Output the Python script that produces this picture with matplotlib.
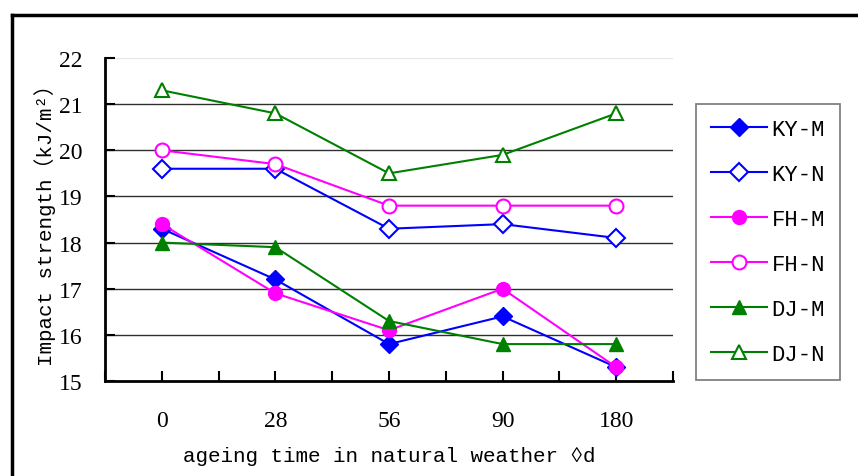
from matplotlib import pyplot as plt
from matplotlib.lines import Line2D
import numpy as np

# 数据
days = ['0', '28', '56', '90', '180']
ky_m = [18.3, 17.2, 15.8, 16.4, 15.3]
ky_n = [19.6, 19.6, 18.3, 18.4, 18.1]
fh_m = [18.4, 16.9, 16.1, 17.0, 15.3]
fh_n = [20.0, 19.7, 18.8, 18.8, 18.8]
dj_m = [18.0, 17.9, 16.3, 15.8, 15.8]
dj_n = [21.3, 20.8, 19.5, 19.9, 20.8]
y_ticks = [15, 16, 17, 18, 19, 20, 21, 22]

mono = ['Liberation Mono', 'Noto Sans CJK SC', 'DejaVu Sans']
serif = ['Liberation Serif', 'DejaVu Serif']

W, H = 858, 477
fig = plt.figure(figsize=(W / 100, H / 100), dpi=100)
ax = fig.add_axes([105 / W, 1 - 382 / H, 568 / W, 323 / H])

x = np.arange(len(days))
series = [
    ('KY-M', ky_m, '#0000ff', 'D', 'full', 9),
    ('KY-N', ky_n, '#0000ff', 'D', 'none', 9),
    ('FH-M', fh_m, '#ff00ff', 'o', 'full', 10),
    ('FH-N', fh_n, '#ff00ff', 'o', 'none', 10),
    ('DJ-M', dj_m, '#008000', '^', 'full', 10),
    ('DJ-N', dj_n, '#008000', '^', 'none', 10),
]
for name, vals, c, m, fill, ms in series:
    if fill == 'full':
        ax.plot(x, vals, color=c, marker=m, markersize=ms, lw=1.5,
                markerfacecolor=c, markeredgecolor=c, label=name, zorder=3)
    else:
        ax.plot(x, vals, color=c, marker=m, markersize=ms, lw=1.5,
                markerfacecolor='white', markeredgecolor=c, markeredgewidth=1.5,
                label=name, zorder=3)

ax.set_xlim(-0.5, len(days) - 0.5)
ax.set_ylim(15, 22)
ax.set_yticks(y_ticks)
ax.set_yticklabels([str(v) for v in y_ticks], family=serif, fontsize=17)
ax.set_xticks(x)
ax.set_xticklabels(days, family=serif, fontsize=17)
ax.set_xticks(np.arange(-0.5, len(days), 1.0), minor=True)
ax.tick_params(axis='x', which='both', direction='in', length=7, width=1.5, pad=21)
ax.tick_params(axis='y', direction='in', length=7, width=1.5, pad=16)

for v in y_ticks[1:-1]:
    ax.axhline(v, color='#303030', lw=1.0, zorder=1)
ax.axhline(22, color='#e6e6e6', lw=1.0, zorder=1)

ax.spines['top'].set_visible(False)
ax.spines['right'].set_visible(False)
ax.spines['left'].set_linewidth(2)
ax.spines['bottom'].set_linewidth(2)

ax.set_ylabel('Impact strength（kJ/m²）', family=mono, fontsize=15, va='center')
ax.yaxis.set_label_coords((45 - 105) / 568, 0.5)
ax.set_xlabel('ageing time in natural weather ◊d', family=mono, fontsize=15, va='center')
ax.xaxis.set_label_coords(0.5, (382 - 457) / 323)

leg = fig.legend(*ax.get_legend_handles_labels(), loc='upper left',
                 bbox_to_anchor=(696 / W, 1 - 105 / H), borderaxespad=0,
                 frameon=True, fancybox=False, edgecolor='#555555',
                 handlelength=2.5, handletextpad=0.22, labelspacing=1.08,
                 borderpad=0.68, prop={'family': mono, 'size': 16})
leg.get_frame().set_linewidth(1.2)

# 外框
fig.add_artist(Line2D([12 / W, 12 / W], [0, 1 - 16 / H],
                      transform=fig.transFigure, color='black', lw=2.5))
fig.add_artist(Line2D([12 / W, 1], [1 - 16 / H, 1 - 16 / H],
                      transform=fig.transFigure, color='black', lw=2.5))

plt.savefig('out.png', dpi=100)
